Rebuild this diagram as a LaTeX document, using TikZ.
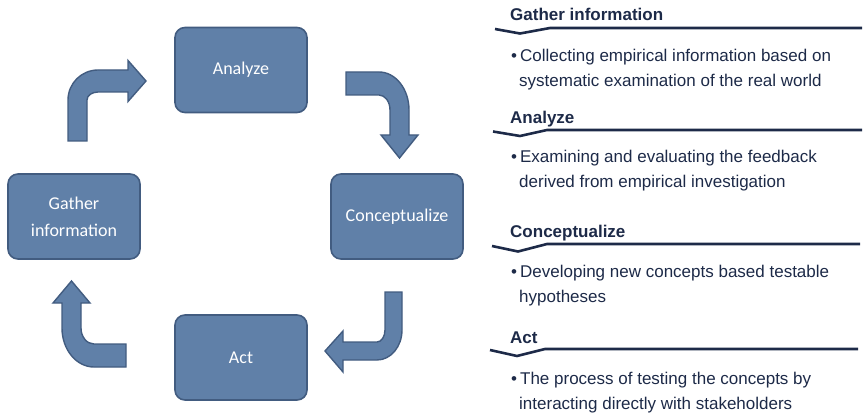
\documentclass[tikz,border=0pt]{standalone}
\usepackage{fontspec}
\setmainfont{Liberation Sans}
\newfontfamily\boxfont{Carlito}
\usepackage{tikz}
\usetikzlibrary{calc}

\definecolor{boxfill}{RGB}{96,128,168}
\definecolor{boxline}{RGB}{66,92,128}
\definecolor{textnavy}{RGB}{29,42,72}

\begin{document}
\begin{tikzpicture}[x=1pt,y=-1pt,
	stage/.style={draw=boxline,fill=boxfill,line width=1.6pt,rounded corners=10pt,
		minimum width=132pt,minimum height=85pt,text=white,align=center,
		font=\boxfont\fontsize{18}{27}\selectfont},
	flow/.style={draw=boxline,fill=boxfill,line width=1.4pt,line join=miter},
	head/.style={anchor=base west,inner sep=0pt,text=textnavy,font=\bfseries\fontsize{17}{20}\selectfont},
	body/.style={anchor=base west,inner sep=0pt,text=textnavy,font=\fontsize{17}{20}\selectfont},
	rule/.style={draw=textnavy,line width=2.6pt,line join=round}]
			\useasboundingbox (0,0) rectangle (864,414);
			
			\node[stage] (analyze) at (241,70) {Analyze};
			\node[stage] (gather) at (74,216.5) {Gather\\information};
			\node[stage] (concept) at (397,216.5) {Conceptualize};
			\node[stage] (act) at (241,357.5) {Act};
			
			% bent arrows round the cycle
			\draw[flow] (68,141) -- (68,100) arc[start angle=180,end angle=270,x radius=30,y radius=30]
				-- (128,70) -- (128,60.5) -- (146,81) -- (128,101.5) -- (128,92) -- (98,92)
				arc[start angle=270,end angle=180,x radius=11,y radius=8] -- (87,141) -- cycle;
			\draw[flow] (346,72) -- (379,72) arc[start angle=270,end angle=360,x radius=30,y radius=38]
				-- (409,135) -- (418,135) -- (399.5,158) -- (381,135) -- (390,135) -- (390,110)
				arc[start angle=0,end angle=-90,x radius=11,y radius=15] -- (346,95) -- cycle;
			\draw[flow] (385,292) -- (402,292) -- (402,330) arc[start angle=0,end angle=90,x radius=25,y radius=30]
				-- (343,360) -- (343,372) -- (325,351) -- (343,331) -- (343,342) -- (377,342)
				arc[start angle=90,end angle=0,x radius=8,y radius=12] -- cycle;
			\draw[flow] (126,344) -- (126,367) -- (94,367) arc[start angle=90,end angle=180,x radius=32,y radius=39]
				-- (62,303) -- (53,303) -- (71.5,281) -- (90,303) -- (81,303) -- (81,328)
				arc[start angle=180,end angle=90,x radius=13,y radius=16] -- cycle;
			
			\node[head] (hGather) at (510,21) {Gather information};
			\draw[rule] (495,29) -- (520,33.5) -- (550,28) -- (862,28);
			\node[body] (gA) at (511,62) {\textbullet\hspace{3pt}Collecting empirical information based on};
			\node[body] (gB) at (519,87) {systematic examination of the real world};
			
			\node[head] (hAnalyze) at (510,124) {Analyze};
			\draw[rule] (493,131.5) -- (520,136) -- (547,130) -- (862,130);
			\node[body] (aA) at (511,163) {\textbullet\hspace{3pt}Examining and evaluating the feedback};
			\node[body] (aB) at (519,188) {derived from empirical investigation};
			
			\node[head] (hConcept) at (510,237) {Conceptualize};
			\draw[rule] (492,246) -- (518,251.5) -- (547,244) -- (860,244);
			\node[body] (cA) at (511,277) {\textbullet\hspace{3pt}Developing new concepts based testable};
			\node[body] (cB) at (519,302) {hypotheses};
			
			\node[head] (hAct) at (510,343) {Act};
			\draw[rule] (490,350) -- (517,356) -- (545,349) -- (858,349);
			\node[body] (tA) at (511,384) {\textbullet\hspace{3pt}The process of testing the concepts by};
			\node[body] (tB) at (519,409) {interacting directly with stakeholders};
		\end{tikzpicture}
\end{document}
